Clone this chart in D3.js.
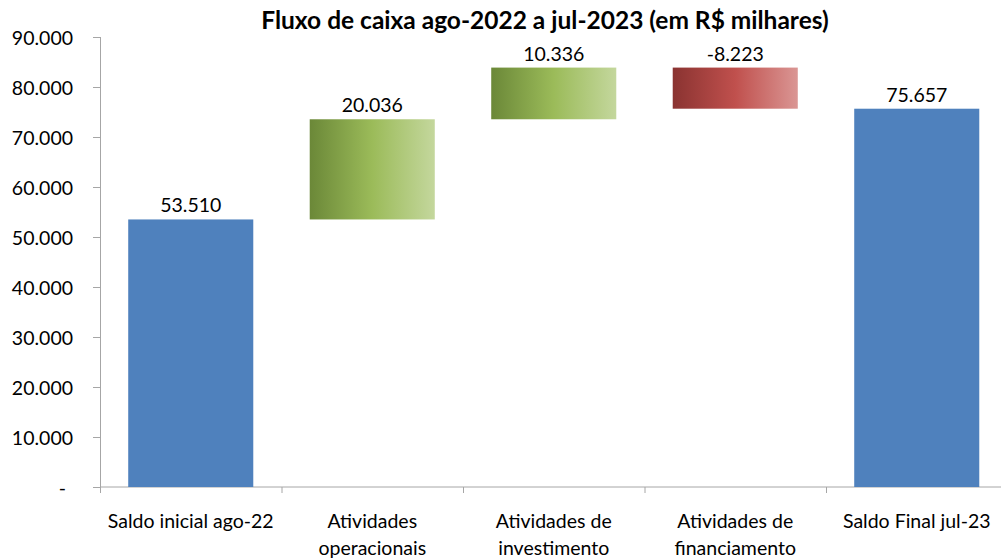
<!DOCTYPE html>
<html>
<head>
<meta charset="utf-8">
<script src="https://cdn.jsdelivr.net/npm/d3@7"></script>
<style>
  body { margin: 0; background: #fff; }
  text { font-family: Lato, "Open Sans", sans-serif; fill: #000; }
</style>
</head>
<body>
<svg width="1001" height="558"></svg>
<script>
// data
var categories = ["Saldo inicial ago-22", "Atividades\noperacionais", "Atividades de\ninvestimento", "Atividades de\nfinanciamento", "Saldo Final jul-23"];
var values = [53510, 20036, 10336, -8223, 75657];
var kinds = ["total", "up", "up", "down", "total"];
var yTicks = [0, 10000, 20000, 30000, 40000, 50000, 60000, 70000, 80000, 90000];
var title = "Fluxo de caixa ago-2022 a jul-2023 (em R$ milhares)";

// pt-BR number format
var br = d3.formatLocale({ decimal: ",", thousands: ".", grouping: [3], currency: ["R$", ""], minus: "-" });
var fmt = br.format(",d");

// build waterfall start/end
var running = 0;
var data = categories.map(function (c, i) {
    var d = { name: c, value: values[i], kind: kinds[i] };
    if (d.kind == "total") {
        d.y0 = 0; d.y1 = d.value; running = d.value;
    } else {
        d.y0 = running; d.y1 = running + d.value; running = d.y1;
    }
    return d;
});

var svg = d3.select("svg"),
    margin = { top: 37, right: 0, bottom: 71, left: 100 },
    height = +svg.attr("height") - margin.top - margin.bottom,
    plotWidth = 907.5; // plot runs a bit past the right edge, as in the original

var x = d3.scaleBand().domain(categories).range([0, plotWidth]).paddingInner(0.311).paddingOuter(0.1555),
    y = d3.scaleLinear().domain([0, 90000]).range([height, 0]);

// gradients
var defs = svg.append("defs");
function grad(id, stops) {
    var g = defs.append("linearGradient").attr("id", id)
        .attr("x1", "0%").attr("x2", "100%").attr("y1", "0%").attr("y2", "0%");
    stops.forEach(function (s) {
        g.append("stop").attr("offset", s[0]).attr("stop-color", s[1]);
    });
}
grad("gUp", [["0%", "#6b8838"], ["50%", "#9bbb59"], ["100%", "#c4d79d"]]);
grad("gDown", [["0%", "#8a3331"], ["50%", "#c0504d"], ["100%", "#da9694"]]);

svg.append("text")
    .attr("x", 545).attr("y", 29)
    .attr("text-anchor", "middle")
    .style("font-weight", "bold").style("font-size", "24.5px")
    .text(title);

var g = svg.append("g").attr("transform", "translate(" + margin.left + "," + margin.top + ")");

// y axis
var yAxis = g.append("g")
    .call(d3.axisLeft(y).tickValues(yTicks).tickSize(7).tickPadding(20)
        .tickFormat(function (d) { return d == 0 ? "-" : fmt(d); }));
yAxis.selectAll("text").style("font-size", "19.5px").attr("dy", "0.36em");
yAxis.select(".tick text").attr("dx", "-7px");
yAxis.selectAll("line, path").attr("stroke", "#a6a6a6");
yAxis.select(".domain").attr("d", "M0.5,0V" + height);

// x axis, ticks on band boundaries
var xAxis = g.append("g").attr("transform", "translate(0," + height + ")");
xAxis.append("line").attr("x1", 0).attr("x2", plotWidth).attr("stroke", "#a6a6a6");
var step = x.step();
var start = x(categories[0]) - x.paddingOuter() * step;
var bounds = d3.range(categories.length + 1).map(function (i) { return start + i * step; });
xAxis.selectAll(".xt").data(bounds).enter().append("line")
    .attr("x1", function (d) { return d + 0.5; }).attr("x2", function (d) { return d + 0.5; })
    .attr("y1", 0).attr("y2", 6).attr("stroke", "#a6a6a6");

// category labels
var labels = xAxis.selectAll(".cat").data(data).enter().append("text")
    .attr("class", "cat")
    .attr("text-anchor", "middle")
    .style("font-size", "19.5px")
    .attr("transform", function (d) { return "translate(" + (x(d.name) + x.bandwidth() / 2) + ",41)"; });
labels.each(function (d) {
    var t = d3.select(this);
    d.name.split("\n").forEach(function (line, i) {
        t.append("tspan").attr("x", 0).attr("dy", i == 0 ? 0 : 27).text(line);
    });
});

// bars
g.selectAll(".bar").data(data).enter().append("rect")
    .attr("class", "bar")
    .attr("x", function (d) { return x(d.name); })
    .attr("width", x.bandwidth())
    .attr("y", function (d) { return y(Math.max(d.y0, d.y1)); })
    .attr("height", function (d) { return Math.abs(y(d.y0) - y(d.y1)); })
    .attr("fill", function (d) {
        return d.kind == "total" ? "#4f81bd" : d.kind == "up" ? "url(#gUp)" : "url(#gDown)";
    });

// value labels
g.selectAll(".val").data(data).enter().append("text")
    .attr("class", "val")
    .attr("text-anchor", "middle")
    .style("font-size", "19.5px")
    .attr("x", function (d) { return x(d.name) + x.bandwidth() / 2; })
    .attr("y", function (d) { return y(Math.max(d.y0, d.y1)) - 7; })
    .text(function (d) { return fmt(d.value); });
</script>
</body>
</html>
